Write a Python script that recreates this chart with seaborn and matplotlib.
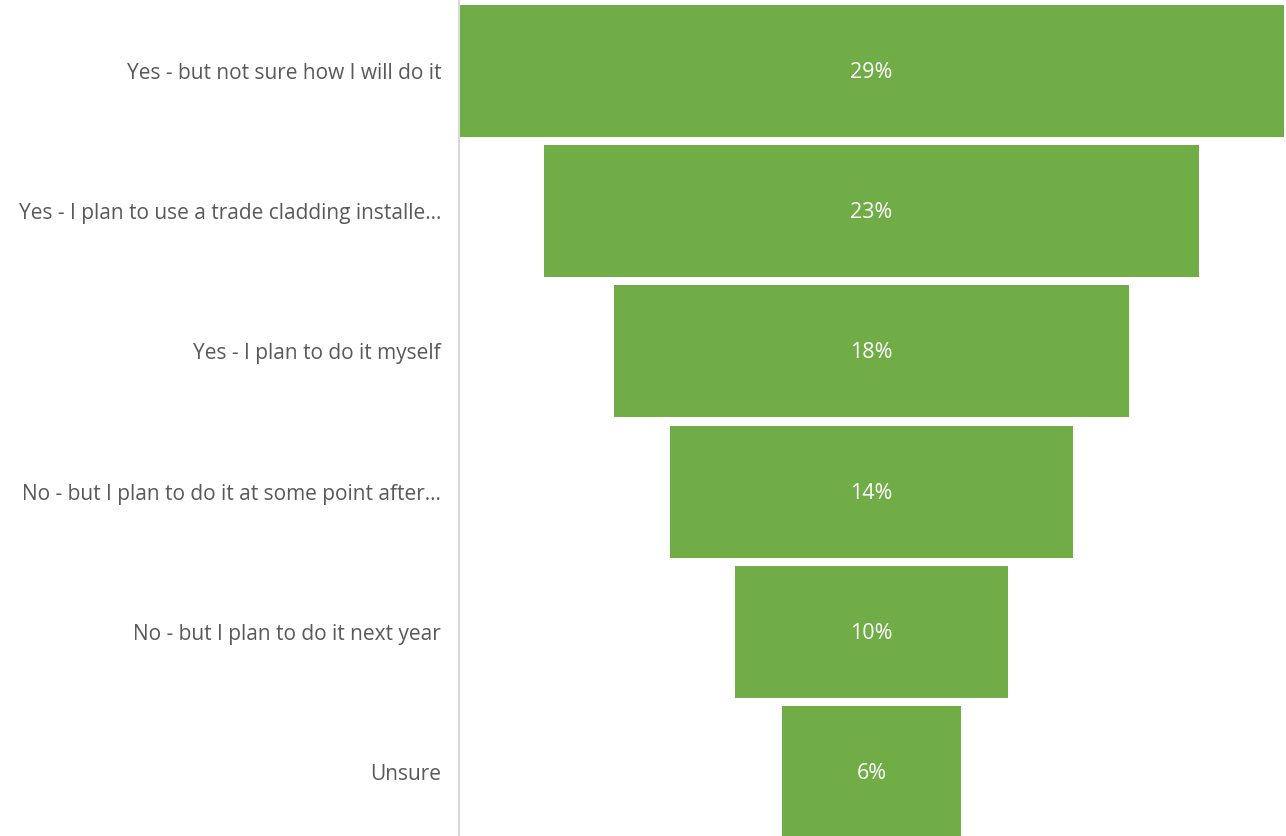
import matplotlib
matplotlib.use("Agg")
import matplotlib.pyplot as plt
import seaborn as sns
import pandas as pd

CATEGORIES = [
    "Yes - but not sure how I will do it",
    "Yes - I plan to use a trade cladding installe...",
    "Yes - I plan to do it myself",
    "No - but I plan to do it at some point after...",
    "No - but I plan to do it next year",
    "Unsure",
]
SHARES = [29.0, 23.0, 18.1, 14.2, 9.6, 6.3]

GREEN = "#70AD47"
LABEL_GREY = "#595959"

sns.set_theme(style="white")
plt.rcParams["font.family"] = ["Open Sans", "DejaVu Sans"]

df = pd.DataFrame({"answer": CATEGORIES, "share": SHARES})

fig = plt.figure(figsize=(12.86, 8.36), dpi=100)
ax = fig.add_axes([0.357, 0.0, 0.6414, 1.0])

sns.barplot(data=df, x="share", y="answer", orient="h", color=GREEN,
            saturation=1, width=0.94, ax=ax)

# centre each bar on zero to make the funnel
for patch, val in zip(ax.patches, df["share"]):
    patch.set_x(-val / 2)
    patch.set_edgecolor("none")
    ax.text(0, patch.get_y() + patch.get_height() / 2 + 0.01, f"{round(val):.0f}%",
            ha="center", va="center", color="white", fontsize=15.5)

half = max(SHARES) / 2
ax.set_xlim(-half, half)
ax.set_ylim(5.456, -0.506)

ax.set_xlabel("")
ax.set_ylabel("")
ax.set_xticks([])
ax.tick_params(axis="y", length=0, pad=13, labelsize=15.0, labelcolor=LABEL_GREY)

for side in ["top", "right", "bottom"]:
    ax.spines[side].set_visible(False)
ax.spines["left"].set_color("#D9D9D9")
ax.spines["left"].set_linewidth(1.5)

fig.savefig("out.png", dpi=100)
